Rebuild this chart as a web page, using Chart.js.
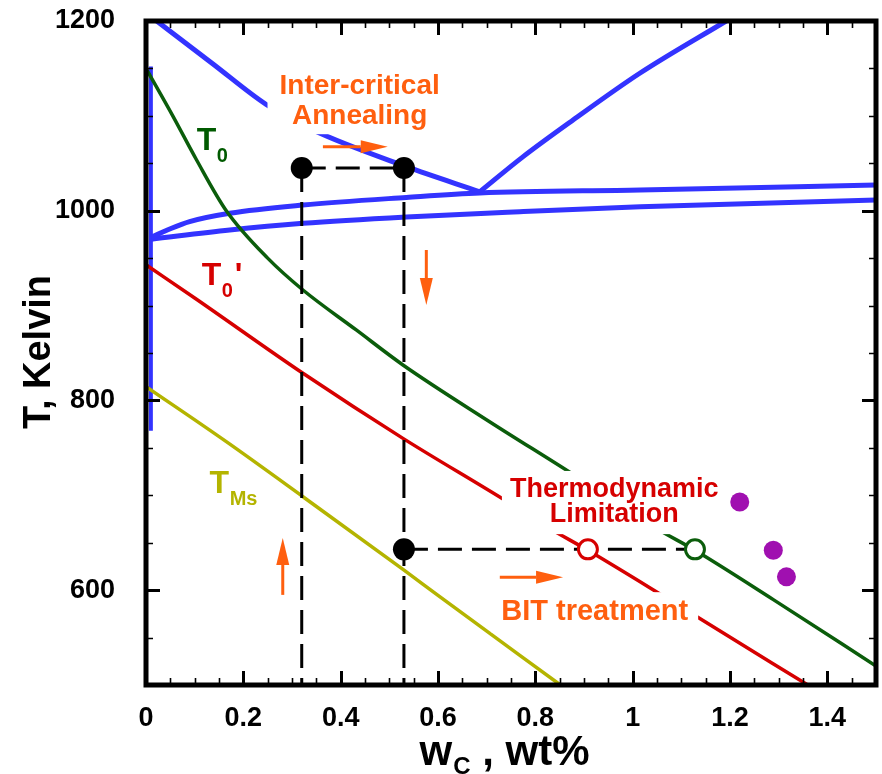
<!DOCTYPE html>
<html>
<head>
<meta charset="utf-8">
<script src="https://cdn.jsdelivr.net/npm/chart.js@4.4.1/dist/chart.umd.min.js"></script>
<style>
  html, body { margin: 0; padding: 0; background: #fff; }
  #wrap { width: 882px; height: 774px; position: relative; }
</style>
</head>
<body>
<div id="wrap"><canvas id="c" width="882" height="774"></canvas></div>
<script>
// ---- axis ranges and tick labels ----
const xMin = 0, xMax = 1.5, yMin = 500, yMax = 1200;
const xTickValues = [0, 0.2, 0.4, 0.6, 0.8, 1, 1.2, 1.4];
const yTickValues = [600, 800, 1000, 1200];

// ---- phase boundaries (wt% C, Kelvin) ----
// ferrite / austenite boundary (A3)
const a3C = [0.022, 0.137, 0.247, 0.343, 0.535, 0.686];
const a3T = [1200, 1155, 1112, 1085, 1046.4, 1020];
// austenite / cementite boundary (Acm)
const acmC = [0.686, 0.775, 0.8775, 1.0146, 1.192];
const acmT = [1020, 1057, 1095.6, 1144.9, 1200];
// upper three-phase line
const a1UpperC = [0.011, 0.05, 0.0896, 0.172, 0.3225, 0.535, 0.686, 1.0156, 1.5];
const a1UpperT = [972, 981, 988.5, 997.3, 1006, 1014, 1018.7, 1021.8, 1027.2];
// lower three-phase line
const a1LowerC = [0.011, 0.172, 0.3225, 0.535, 0.768, 1.0156, 1.5];
const a1LowerT = [970, 979.7, 986.7, 993.4, 999, 1004.2, 1011.3];
// ferrite solvus near the iron axis
const ferriteC = [0.010, 0.010];
const ferriteT = [1152, 768];

// ---- T0, T0' and Ms curves ----
const t0C = [0, 0.055, 0.1034, 0.165, 0.25, 0.3225, 0.432, 0.528, 0.706, 0.87, 1.049, 1.128, 1.289, 1.5];
const t0T = [1150, 1100, 1054, 1000, 950, 916.4, 874.3, 837.4, 777.6, 724.5, 665, 642, 590, 520];
const t0pC = [0, 0.10, 0.3225, 0.528, 0.7336, 0.8296, 0.908, 1.056, 1.138, 1.36];
const t0pT = [943, 908, 828.6, 760, 696, 665, 642, 596, 570, 500];
const msC = [0, 0.165, 0.3225, 0.5295, 0.6035, 0.8515];
const msT = [814.5, 756.5, 698.5, 621.3, 593.1, 500];

// ---- treatment path ----
const alloyC = [0.32, 0.53];        // the two carbon contents
const annealT = 1045;               // inter-critical annealing temperature
const bitT = 643;                   // bainitic isothermal treatment temperature
const limitT0pC = 0.908;            // T0' limit at bitT
const limitT0C = 1.128;             // T0 limit at bitT

// ---- measured points ----
const measC = [1.22, 1.289, 1.316];
const measT = [693, 642, 614];

// ---- colours ----
const BLUE = '#3333ff';
const GREEN = '#0b5d0b';
const RED = '#d60000';
const OLIVE = '#b4b400';
const ORANGE = '#ff5f0f';
const PURPLE = '#a010b0';
const FONT = "'Liberation Sans', Arial, Helvetica, sans-serif";

const pts = (xs, ys) => xs.map((x, i) => ({ x: x, y: ys[i] }));

function curve(xs, ys, color, width, order) {
  return {
    data: pts(xs, ys), showLine: true, borderColor: color, borderWidth: width,
    pointRadius: 0, cubicInterpolationMode: 'monotone', order: order, fill: false
  };
}
function straight(data, color, width, order, dash) {
  return {
    data: data, showLine: true, borderColor: color, borderWidth: width,
    pointRadius: 0, tension: 0, borderDash: dash || [], order: order, fill: false
  };
}
function marks(data, radius, fillColor, edgeColor, edgeWidth, order) {
  return {
    data: data, showLine: false, pointRadius: radius, pointHoverRadius: radius,
    pointBackgroundColor: fillColor, pointBorderColor: edgeColor,
    pointBorderWidth: edgeWidth, order: order
  };
}

const DASH = [24, 10];
const datasets = [
  curve(a3C, a3T, BLUE, 5, 60),
  curve(acmC, acmT, BLUE, 5, 60),
  curve(a1UpperC, a1UpperT, BLUE, 5, 60),
  curve(a1LowerC, a1LowerT, BLUE, 5, 60),
  straight(pts(ferriteC, ferriteT), BLUE, 4, 60),
  curve(t0C, t0T, GREEN, 3.5, 50),
  curve(t0pC, t0pT, RED, 3.5, 50),
  curve(msC, msT, OLIVE, 3.5, 50),
  straight([{ x: alloyC[0], y: annealT }, { x: alloyC[0], y: yMin }], '#000', 3, 40, DASH),
  straight([{ x: alloyC[1], y: annealT }, { x: alloyC[1], y: yMin }], '#000', 3, 40, DASH),
  straight([{ x: alloyC[0], y: annealT }, { x: alloyC[1], y: annealT }], '#000', 3, 40, DASH),
  straight([{ x: alloyC[1], y: bitT }, { x: limitT0C, y: bitT }], '#000', 3, 40, DASH),
  marks([{ x: alloyC[0], y: annealT }, { x: alloyC[1], y: annealT }, { x: alloyC[1], y: bitT }], 11, '#000', '#000', 0, 10),
  marks([{ x: limitT0pC, y: bitT }], 9.5, '#fff', RED, 3, 10),
  marks([{ x: limitT0C, y: bitT }], 9.5, '#fff', GREEN, 3, 10),
  marks(pts(measC, measT), 9.5, PURPLE, PURPLE, 0, 10)
];

// ---- annotations (anchored in data units) ----
const textBlocks = [
  { lines: ['Inter-critical', 'Annealing'], x: 0.439, t: 1123, gap: 30, size: 28, color: ORANGE, padX: 12, padY: 4 },
  { lines: ['Thermodynamic', 'Limitation'], x: 0.962, t: 698, gap: 25, size: 27, color: RED, padX: 8, padY: 6 },
  { lines: ['BIT treatment'], x: 0.922, t: 568.6, gap: 0, size: 29, color: ORANGE, padX: 10, padY: 6 }
];
const curveLabels = [
  { main: 'T', sub: '0', tail: '', x: 0.1044, t: 1064, color: '#005a00' },
  { main: 'T', sub: '0', tail: "'", x: 0.1143, t: 921.7, color: RED },
  { main: 'T', sub: 'Ms', tail: '', x: 0.1307, t: 702.4, color: OLIVE }
];
const arrows = [
  { from: [0.3635, 1067.5], to: [0.4967, 1067.5] },
  { from: [0.576, 958.6], to: [0.576, 900.6] },
  { from: [0.281, 595], to: [0.281, 655] },
  { from: [0.727, 613.5], to: [0.857, 613.5] }
];

function drawArrow(ctx, x1, y1, x2, y2) {
  const ang = Math.atan2(y2 - y1, x2 - x1);
  const head = 27, half = 6.5;
  const bx = x2 - head * Math.cos(ang), by = y2 - head * Math.sin(ang);
  ctx.strokeStyle = ORANGE; ctx.fillStyle = ORANGE; ctx.lineWidth = 3;
  ctx.beginPath(); ctx.moveTo(x1, y1); ctx.lineTo(bx, by); ctx.stroke();
  ctx.beginPath();
  ctx.moveTo(x2, y2);
  ctx.lineTo(bx - half * Math.sin(ang), by + half * Math.cos(ang));
  ctx.lineTo(bx + half * Math.sin(ang), by - half * Math.cos(ang));
  ctx.closePath(); ctx.fill();
}

const decorations = {
  id: 'decorations',
  beforeDraw(chart) {
    const ctx = chart.ctx;
    ctx.save(); ctx.fillStyle = '#fff'; ctx.fillRect(0, 0, chart.width, chart.height); ctx.restore();
  },
  afterDatasetsDraw(chart) {
    const ctx = chart.ctx, xs = chart.scales.x, ys = chart.scales.y;
    ctx.save();
    // text blocks sit on white boxes that interrupt the curves beneath
    textBlocks.forEach(b => {
      ctx.font = 'bold ' + b.size + 'px ' + FONT;
      const cx = xs.getPixelForValue(b.x), by = ys.getPixelForValue(b.t);
      const w = Math.max.apply(null, b.lines.map(l => ctx.measureText(l).width));
      const top = by - b.size * 0.75 - b.padY;
      const bottom = by + b.gap * (b.lines.length - 1) + b.size * 0.22 + b.padY;
      ctx.fillStyle = '#fff';
      ctx.fillRect(cx - w / 2 - b.padX, top, w + 2 * b.padX, bottom - top);
      ctx.fillStyle = b.color; ctx.textAlign = 'center'; ctx.textBaseline = 'alphabetic';
      b.lines.forEach((l, i) => ctx.fillText(l, cx, by + i * b.gap));
    });
    // curve names with subscripts
    curveLabels.forEach(c => {
      const x = xs.getPixelForValue(c.x), y = ys.getPixelForValue(c.t);
      ctx.fillStyle = c.color; ctx.textAlign = 'left'; ctx.textBaseline = 'alphabetic';
      ctx.font = 'bold 32px ' + FONT;
      ctx.fillText(c.main, x, y);
      let nx = x + ctx.measureText(c.main).width + 0.5;
      ctx.font = 'bold 20px ' + FONT;
      ctx.fillText(c.sub, nx, y + 12);
      nx += ctx.measureText(c.sub).width + 2;
      if (c.tail) { ctx.font = 'bold 32px ' + FONT; ctx.fillText(c.tail, nx, y); }
    });
    arrows.forEach(a => drawArrow(ctx,
      xs.getPixelForValue(a.from[0]), ys.getPixelForValue(a.from[1]),
      xs.getPixelForValue(a.to[0]), ys.getPixelForValue(a.to[1])));
    ctx.restore();
  },
  afterDraw(chart) {
    const ctx = chart.ctx, xs = chart.scales.x, ys = chart.scales.y, a = chart.chartArea;
    ctx.save();
    ctx.strokeStyle = '#000';
    // inward tick marks on all four sides
    for (let i = 0; i <= 30; i++) {
      const v = i * 0.05, px = Math.round(xs.getPixelForValue(v)) + 0.5;
      const major = i % 4 === 0, len = major ? 14 : 7;
      ctx.lineWidth = major ? 3 : 1.6;
      ctx.beginPath();
      ctx.moveTo(px, a.bottom); ctx.lineTo(px, a.bottom - len);
      ctx.moveTo(px, a.top); ctx.lineTo(px, a.top + len);
      ctx.stroke();
    }
    for (let i = 0; i <= 14; i++) {
      const v = yMin + i * 50, py = Math.round(ys.getPixelForValue(v)) + 0.5;
      const major = v % 200 === 0, len = major ? 14 : 7;
      ctx.lineWidth = major ? 3 : 1.6;
      ctx.beginPath();
      ctx.moveTo(a.left, py); ctx.lineTo(a.left + len, py);
      ctx.moveTo(a.right, py); ctx.lineTo(a.right - len, py);
      ctx.stroke();
    }
    // heavy frame
    ctx.lineWidth = 5;
    ctx.strokeRect(a.left, a.top, a.right - a.left, a.bottom - a.top);
    // axis titles
    ctx.fillStyle = '#000';
    ctx.save();
    ctx.translate(50, 352); ctx.rotate(-Math.PI / 2);
    ctx.font = 'bold 38px ' + FONT; ctx.textAlign = 'center'; ctx.textBaseline = 'alphabetic';
    ctx.fillText('T, Kelvin', 0, 0);
    ctx.restore();
    const big = 'bold 42px ' + FONT, small = 'bold 24px ' + FONT;
    ctx.font = big; const wW = ctx.measureText('w').width;
    const rest = ' , wt%'; const rW = ctx.measureText(rest).width;
    ctx.font = small; const cW = ctx.measureText('C').width;
    const total = wW + cW + rW, base = 765;
    let tx = 504 - total / 2;
    ctx.textAlign = 'left'; ctx.textBaseline = 'alphabetic';
    ctx.font = big; ctx.fillText('w', tx, base); tx += wW + 1;
    ctx.font = small; ctx.fillText('C', tx, base + 9); tx += cW;
    ctx.font = big; ctx.fillText(rest, tx, base);
    ctx.restore();
  }
};

const tickFont = { family: FONT, size: 27, weight: 'bold' };

new Chart(document.getElementById('c'), {
  type: 'scatter',
  data: { datasets: datasets },
  options: {
    responsive: false, animation: false, devicePixelRatio: 1,
    layout: { padding: { top: 21, right: 6, left: 0, bottom: 0 }, autoPadding: false },
    plugins: { legend: { display: false }, tooltip: { enabled: false } },
    scales: {
      x: {
        type: 'linear', position: 'bottom', min: xMin, max: xMax,
        grid: { display: false }, border: { display: false },
        afterBuildTicks: s => { s.ticks = xTickValues.map(v => ({ value: v })); },
        afterFit: s => { s.height = 89; s.paddingLeft = 0; s.paddingRight = 0; },
        ticks: { font: tickFont, color: '#000', padding: 9, autoSkip: false, maxRotation: 0,
                 callback: v => String(v) }
      },
      y: {
        type: 'linear', position: 'left', min: yMin, max: yMax,
        grid: { display: false }, border: { display: false },
        afterBuildTicks: s => { s.ticks = yTickValues.map(v => ({ value: v })); },
        afterFit: s => { s.width = 146; s.paddingTop = 0; s.paddingBottom = 0; },
        ticks: { font: tickFont, color: '#000', padding: 23, autoSkip: false,
                 callback: v => String(v) }
      }
    }
  },
  plugins: [decorations]
});
</script>
</body>
</html>
